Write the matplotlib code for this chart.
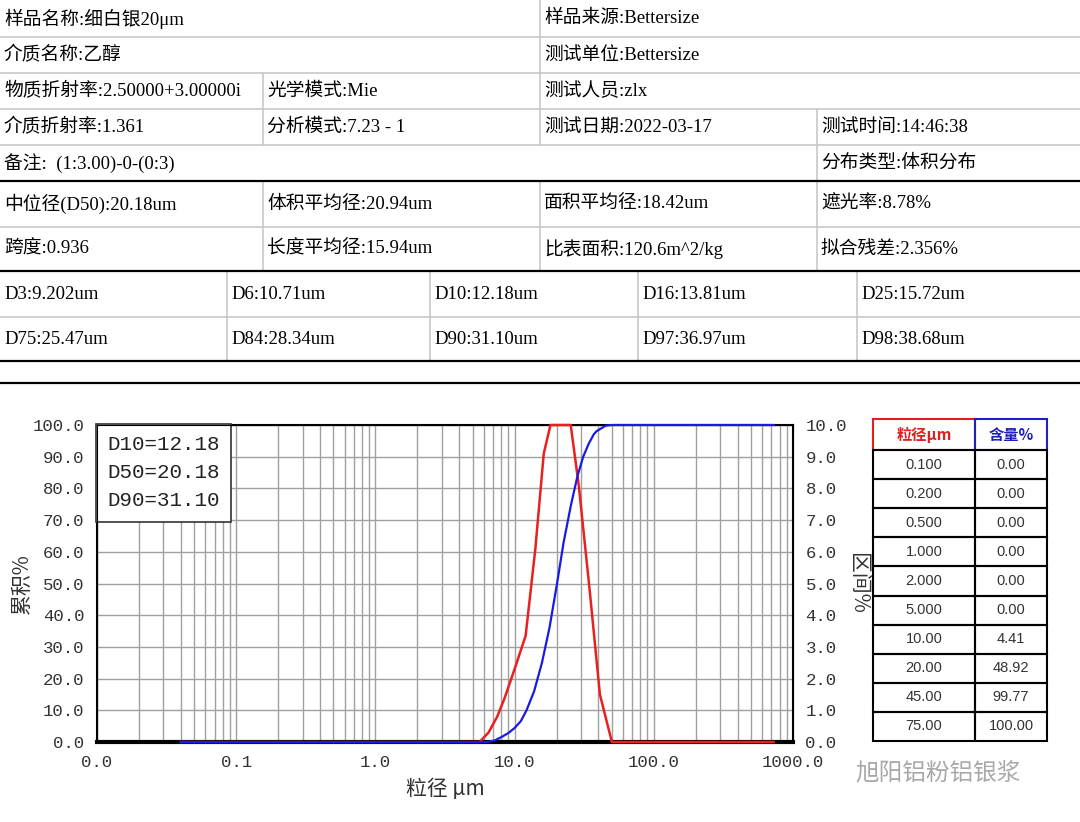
import matplotlib
matplotlib.use("Agg")
import matplotlib.pyplot as plt

W, H = 1080, 822
SERIF = ["Liberation Serif", "Noto Sans CJK SC"]
MONO = ["Liberation Mono", "Noto Sans CJK SC"]

# ---- report header rows: (y_top, y_bottom, [(x, text), ...]) ----
info_rows = [
    (0, 37, [(0, "样品名称:细白银20μm"), (540, "样品来源:Bettersize")]),
    (37, 73, [(0, "介质名称:乙醇"), (540, "测试单位:Bettersize")]),
    (73, 109, [(0, "物质折射率:2.50000+3.00000i"), (263, "光学模式:Mie"), (540, "测试人员:zlx")]),
    (109, 145, [(0, "介质折射率:1.361"), (263, "分析模式:7.23 - 1"), (540, "测试日期:2022-03-17"),
                (817, "测试时间:14:46:38")]),
    (145, 181, [(0, "备注:  (1:3.00)-0-(0:3)"), (817, "分布类型:体积分布")]),
    (181, 227, [(0, "中位径(D50):20.18um"), (263, "体积平均径:20.94um"), (540, "面积平均径:18.42um"),
                (817, "遮光率:8.78%")]),
    (227, 271, [(0, "跨度:0.936"), (263, "长度平均径:15.94um"), (540, "比表面积:120.6m^2/kg"),
                (817, "拟合残差:2.356%")]),
    (271, 317, [(0, "D3:9.202um"), (227, "D6:10.71um"), (430, "D10:12.18um"), (638, "D16:13.81um"),
                (857, "D25:15.72um")]),
    (317, 361, [(0, "D75:25.47um"), (227, "D84:28.34um"), (430, "D90:31.10um"), (638, "D97:36.97um"),
                (857, "D98:38.68um")]),
]
thick_lines = [181, 271, 361, 383]

# ---- curves ----
freq_size = [0.04, 5.6, 6.5, 7.5, 8.5, 10, 12, 14.1, 16.2, 18.1, 25.3, 28.9, 34.6, 41, 50, 725]
freq_val = [0, 0, 0.3, 0.8, 1.4, 2.3, 3.35, 6.1, 9.1, 10, 10, 8.1, 4.8, 1.5, 0, 0]
cum_size = [0.04, 6.4, 7.2, 8, 9, 10, 11.1, 12.18, 13.81, 15.72, 17.8, 20.18, 22.5, 25.47,
            28.34, 31.1, 34, 36.97, 38.68, 45, 50, 725]
cum_val = [0, 0, 0.5, 1.5, 2.8, 4.41, 6.6, 10, 16, 25, 36, 50, 63, 75, 84, 90, 94, 97, 98,
           99.77, 100, 100]

d_labels = ["D10=12.18", "D50=20.18", "D90=31.10"]
xtick_vals = [0.01, 0.1, 1, 10, 100, 1000]
xtick_labels = ["0.0", "0.1", "1.0", "10.0", "100.0", "1000.0"]

tab_size = ["0.100", "0.200", "0.500", "1.000", "2.000", "5.000", "10.00", "20.00", "45.00", "75.00"]
tab_pct = ["0.00", "0.00", "0.00", "0.00", "0.00", "0.00", "4.41", "48.92", "99.77", "100.00"]

fig = plt.figure(figsize=(W / 100, H / 100), dpi=100)
bg = fig.add_axes([0, 0, 1, 1])
bg.set_xlim(0, W)
bg.set_ylim(H, 0)
bg.axis("off")

# header table
for y0, y1, cells in info_rows:
    bg.plot([0, W], [y1, y1], color="#c8c8c8", lw=1.2)
    for x, txt in cells:
        if x > 0:
            bg.plot([x, x], [y0, y1], color="#c8c8c8", lw=1.2)
        bg.text(x + 4, (y0 + y1) / 2, txt, fontsize=13.5, family=SERIF, va="center", ha="left")
for y in thick_lines:
    bg.plot([0, W], [y, y], color="black", lw=1.6)

# side table
cx = [873, 975, 1047]
ry = [419, 450] + [450 + 29.1 * (i + 1) for i in range(10)]
bg.add_patch(plt.Rectangle((cx[0], ry[0]), cx[1] - cx[0], ry[1] - ry[0], fill=False, ec="#e02020", lw=1.5))
bg.add_patch(plt.Rectangle((cx[1], ry[0]), cx[2] - cx[1], ry[1] - ry[0], fill=False, ec="#2020c0", lw=1.5))
bg.text((cx[0] + cx[1]) / 2, (ry[0] + ry[1]) / 2, "粒径μm", color="#e02020", fontsize=11,
        weight="bold", ha="center", va="center", family=["Noto Sans CJK SC"])
bg.text((cx[1] + cx[2]) / 2, (ry[0] + ry[1]) / 2, "含量%", color="#2020c0", fontsize=11,
        weight="bold", ha="center", va="center", family=["Noto Sans CJK SC"])
for i, (s, p) in enumerate(zip(tab_size, tab_pct)):
    y0, y1 = ry[i + 1], ry[i + 2]
    for xa, xb, t in [(cx[0], cx[1], s), (cx[1], cx[2], p)]:
        bg.add_patch(plt.Rectangle((xa, y0), xb - xa, y1 - y0, fill=False, ec="black", lw=1.5))
        bg.text((xa + xb) / 2, (y0 + y1) / 2, t, fontsize=10.5, ha="center", va="center",
                family=["Liberation Sans"], color="#333333")

bg.text(855, 773, "旭阳铝粉铝银浆", fontsize=17, color="#a8a8a8", va="center", ha="left",
        family=["Noto Sans CJK SC"])

# main chart
L, R, T, B = 97, 793, 425, 742
ax = fig.add_axes([L / W, (H - B) / H, (R - L) / W, (B - T) / H])
ax.set_xscale("log")
ax.set_xlim(0.01, 1000)
ax.set_ylim(0, 100)
ax.grid(True, which="both", axis="x", color="#a0a0a0", lw=1)
ax.grid(True, which="major", axis="y", color="#a0a0a0", lw=1)
ax.set_axisbelow(True)
ax.set_xticks(xtick_vals)
ax.set_xticklabels(xtick_labels)
ax.set_yticks(range(0, 101, 10))
ax.set_yticklabels([f"{v:.1f}" for v in range(0, 101, 10)])
ax.tick_params(which="both", length=0, labelsize=12.5, pad=9, labelcolor="#333333")
for lab in ax.get_xticklabels() + ax.get_yticklabels():
    lab.set_family(MONO)
for s in ax.spines.values():
    s.set_color("black")
    s.set_linewidth(1.5)
ax.spines["bottom"].set_linewidth(3)

ax2 = ax.twinx()
ax2.set_ylim(0, 10)
ax2.set_yticks(range(0, 11))
ax2.set_yticklabels([f"{v:.1f}" for v in range(0, 11)])
ax2.tick_params(length=0, labelsize=12.5, pad=9, labelcolor="#333333")
for lab in ax2.get_yticklabels():
    lab.set_family(MONO)

ax2.plot(freq_size, freq_val, color="#e82020", lw=1.8, clip_on=False, zorder=5)
ax2.plot(cum_size, [v / 10 for v in cum_val], color="#1a1ae0", lw=1.6, clip_on=False, zorder=6)

ax.set_xlabel("粒径 μm", fontsize=15, family=["Noto Sans CJK SC"], color="#333333", labelpad=6)
ax.set_ylabel("累积%", fontsize=15, family=["Noto Sans CJK SC"], color="#333333", labelpad=0)
ax2.set_ylabel("区间%", fontsize=15, family=["Noto Sans CJK SC"], color="#333333",
               rotation=270, labelpad=16)

ax.text(0.0118, 96.8, "\n".join(d_labels), fontsize=15, family=MONO, va="top", ha="left",
        linespacing=1.6, zorder=7, color="#222222",
        bbox=dict(boxstyle="square,pad=0.55", fc="white", ec="#333333", lw=1.2))

fig.savefig("out.png", dpi=100)
